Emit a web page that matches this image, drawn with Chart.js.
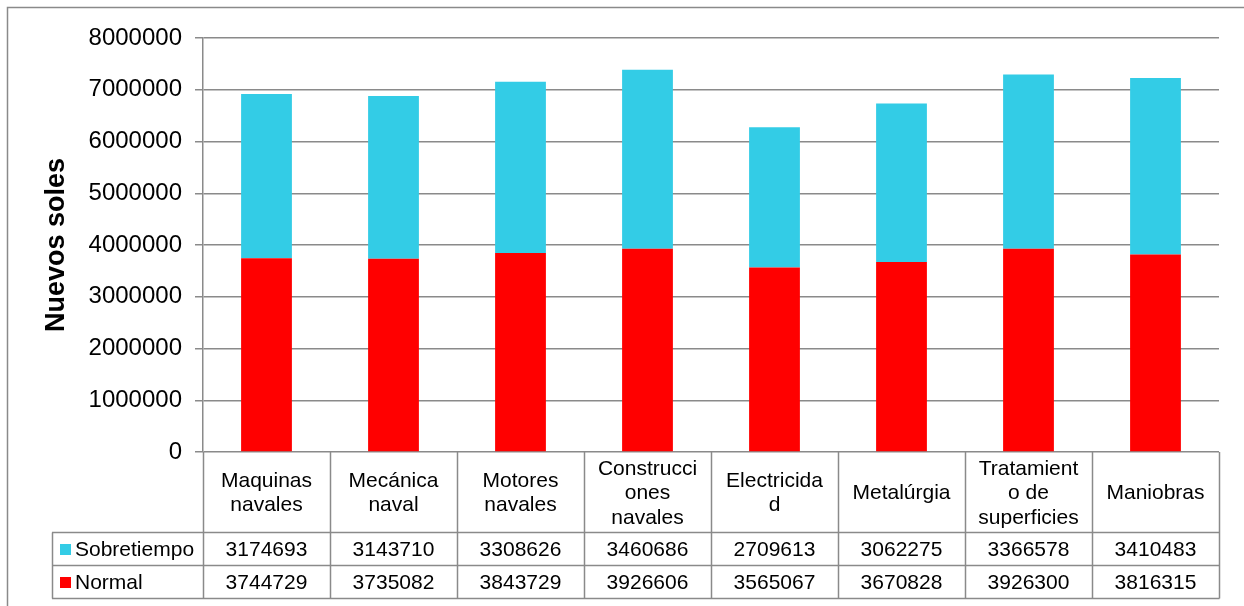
<!DOCTYPE html>
<html>
<head>
<meta charset="utf-8">
<script src="https://cdn.jsdelivr.net/npm/chart.js@4/dist/chart.umd.min.js"></script>
<style>
  html, body { margin: 0; padding: 0; background: #ffffff; }
  #wrap { width: 1244px; height: 606px; position: relative; }
</style>
</head>
<body>
<div id="wrap"><canvas id="c" width="1244" height="606"></canvas></div>
<script>
// Categories, shown as wrapped lines in the data table header
const categoryLines = [
  ['Maquinas', 'navales'],
  ['Mecánica', 'naval'],
  ['Motores', 'navales'],
  ['Construcci', 'ones', 'navales'],
  ['Electricida', 'd'],
  ['Metalúrgia'],
  ['Tratamient', 'o de', 'superficies'],
  ['Maniobras']
];
const categories = categoryLines.map(l => l.join(''));

// Series values (nuevos soles)
const normal = [3744729, 3735082, 3843729, 3926606, 3565067, 3670828, 3926300, 3816315];
const sobretiempo = [3174693, 3143710, 3308626, 3460686, 2709613, 3062275, 3366578, 3410483];

// Y-axis ticks
const yTicks = [0, 1000000, 2000000, 3000000, 4000000, 5000000, 6000000, 7000000, 8000000];

const COLOR_NORMAL = '#ff0000';
const COLOR_SOBRE = '#33cce6';
const LINE = '#8a8a8a';
const FONT = "'Liberation Sans', Arial, sans-serif";

// Table rows, in display order
const tableRows = [
  { name: 'Sobretiempo', color: COLOR_SOBRE, values: sobretiempo },
  { name: 'Normal', color: COLOR_NORMAL, values: normal }
];

const frameAndTable = {
  id: 'frameAndTable',
  beforeDraw(chart) {
    const ctx = chart.ctx;
    ctx.save();
    ctx.fillStyle = '#ffffff';
    ctx.fillRect(0, 0, chart.width, chart.height);
    ctx.strokeStyle = LINE;
    ctx.lineWidth = 1.5;
    ctx.strokeRect(7.5, 7.5, chart.width + 20, chart.height + 20);
    ctx.restore();
  },
  afterDraw(chart) {
    const ctx = chart.ctx;
    const area = chart.chartArea;
    const x = chart.scales.x;
    const n = categories.length;
    const cw = (area.right - area.left) / n;
    const top = area.bottom;
    const headerBottom = 532.5;
    const rowH = 33;
    const tableBottom = headerBottom + rowH * tableRows.length;
    const legendLeft = 52;

    ctx.save();
    ctx.strokeStyle = LINE;
    ctx.lineWidth = 1.5;
    ctx.beginPath();
    // vertical lines at category boundaries
    for (let i = 0; i <= n; i++) {
      const bx = Math.round(area.left + i * cw) + 0.5;
      ctx.moveTo(bx, top);
      ctx.lineTo(bx, tableBottom);
    }
    // horizontal row lines
    for (let r = 0; r <= tableRows.length; r++) {
      const y = headerBottom + r * rowH;
      ctx.moveTo(legendLeft, y);
      ctx.lineTo(area.right + 0.5, y);
    }
    ctx.moveTo(legendLeft + 0.5, headerBottom);
    ctx.lineTo(legendLeft + 0.5, tableBottom);
    ctx.stroke();

    ctx.fillStyle = '#000000';
    ctx.font = '21px ' + FONT;
    ctx.textAlign = 'center';
    ctx.textBaseline = 'middle';
    const lh = 24.5;
    const headerMid = (top + headerBottom) / 2 + 1;
    categoryLines.forEach((lines, i) => {
      const cx = x.getPixelForValue(i);
      const y0 = headerMid - (lines.length - 1) * lh / 2;
      lines.forEach((t, k) => ctx.fillText(t, cx, y0 + k * lh));
    });

    tableRows.forEach((row, r) => {
      const cy = headerBottom + r * rowH + rowH / 2 + 1;
      ctx.fillStyle = row.color;
      ctx.fillRect(60, cy - 6, 11, 11);
      ctx.fillStyle = '#000000';
      ctx.textAlign = 'left';
      ctx.fillText(row.name, 75, cy);
      ctx.textAlign = 'center';
      row.values.forEach((v, i) => {
        ctx.fillText(String(v), x.getPixelForValue(i), cy);
      });
    });
    ctx.restore();
  }
};

new Chart(document.getElementById('c'), {
  type: 'bar',
  data: {
    labels: categories,
    datasets: [
      { label: 'Normal', data: normal, backgroundColor: COLOR_NORMAL, borderWidth: 0 },
      { label: 'Sobretiempo', data: sobretiempo, backgroundColor: COLOR_SOBRE, borderWidth: 0 }
    ]
  },
  options: {
    responsive: false,
    animation: false,
    events: [],
    layout: { padding: { left: 0, right: 25, top: 38, bottom: 154 } },
    plugins: {
      legend: { display: false },
      tooltip: { enabled: false },
      title: { display: false }
    },
    datasets: { bar: { categoryPercentage: 0.4, barPercentage: 1.0 } },
    scales: {
      x: {
        stacked: true,
        display: false
      },
      y: {
        stacked: true,
        min: 0,
        max: 8000000,
        afterBuildTicks(scale) { scale.ticks = yTicks.map(v => ({ value: v })); },
        afterFit(scale) { scale.width = 203; },
        ticks: {
          color: '#000000',
          font: { family: FONT, size: 24 },
          padding: 13,
          callback: v => String(v)
        },
        grid: { color: LINE, lineWidth: 1.5, tickLength: 8, drawTicks: true },
        border: { color: LINE, width: 1.5 },
        title: {
          display: true,
          text: 'Nuevos soles',
          color: '#000000',
          font: { family: FONT, size: 27, weight: 'bold' },
          padding: { top: 40, bottom: 0 }
        }
      }
    }
  },
  plugins: [frameAndTable]
});
</script>
</body>
</html>
